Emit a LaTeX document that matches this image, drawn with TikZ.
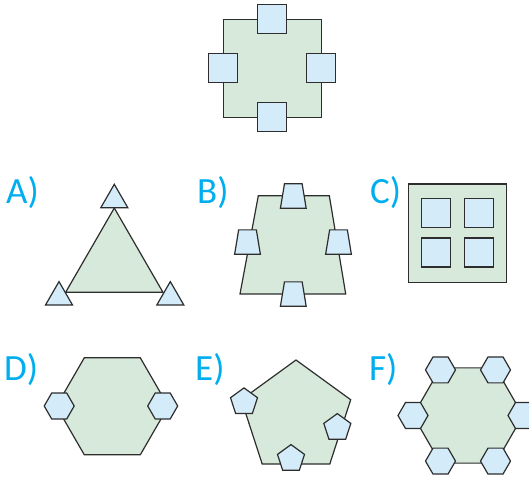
\documentclass[tikz,border=0pt]{standalone}
\usepackage{fontspec}
\setmainfont{Carlito}
\definecolor{bigfill}{RGB}{214,233,219}
\definecolor{smallfill}{RGB}{212,235,249}
\definecolor{edgecol}{RGB}{45,45,45}
\definecolor{labelcol}{RGB}{0,174,239}
\tikzset{
  bigshape/.style={draw=edgecol, fill=bigfill, line width=1.2pt, line join=miter},
  smallshape/.style={draw=edgecol, fill=smallfill, line width=1.2pt, line join=miter},
  optlabel/.style={anchor=base west, inner sep=0pt, text=labelcol, font=\fontsize{37}{40}\selectfont}
}
\newcommand\unitpent{(0,-1) -- (0.9511,-0.3090) -- (0.5878,0.8090) -- (-0.5878,0.8090) -- (-0.9511,-0.3090) -- cycle}
\newcommand\unithex{(1,0) -- (0.5,0.866) -- (-0.5,0.866) -- (-1,0) -- (-0.5,-0.866) -- (0.5,-0.866) -- cycle}
\newcommand\unittri{(0,-0.5774) -- (0.5,0.2887) -- (-0.5,0.2887) -- cycle}
\newcommand\unitsq{(-0.5,-0.5) rectangle (0.5,0.5)}
\newcommand\unittrap{(-0.364,-0.5) -- (0.364,-0.5) -- (0.529,0.5) -- (-0.529,0.5) -- cycle}
\begin{document}
\begin{tikzpicture}[x=1pt,y=-1pt]
\useasboundingbox (0,0) rectangle (529,478);
% ---- top figure
\draw[bigshape, shift={(272.3,68.3)}, scale=98] \unitsq;
\foreach \px/\py in {272.3/19.3, 223.3/68.3, 321.3/68.3, 272.3/117.3}
  \draw[smallshape, shift={(\px,\py)}, scale=29] \unitsq;
% ---- A
\node[optlabel] (labA) at (6,203.5) {A)};
\draw[bigshape, shift={(114.3,264.2)}, scale=97.3] \unittri;
\foreach \px/\py in {114.3/199.9, 59/297.2, 170.3/297.2}
  \draw[smallshape, shift={(\px,\py)}, scale=27] \unittri;
% ---- B
\node[optlabel] (labB) at (197,203.5) {B)};
\draw[bigshape] (258.3,195.7) -- (329.3,195.7) -- (345.7,294) -- (240,294) -- cycle;
\foreach \px/\py in {293.3/196, 247.5/242, 338.5/242, 293.3/294}
  \draw[smallshape, shift={(\px,\py)}, scale=24.3] \unittrap;
% ---- C
\node[optlabel] (labC) at (370,203.5) {C)};
\draw[bigshape] (408.3,184) rectangle (506.7,282.3);
\foreach \px/\py in {436.2/213, 479/213, 436.2/252.5, 479/252.5}
  \draw[smallshape, shift={(\px,\py)}, scale=29] \unitsq;
% ---- D
\node[optlabel] (labD) at (4,380) {D)};
\draw[bigshape, shift={(112.3,406.3)}, scale=56] \unithex;
\foreach \px/\py in {59.2/406, 162.7/406}
  \draw[smallshape, shift={(\px,\py)}, scale=15] \unithex;
% ---- E
\node[optlabel] (labE) at (195,380) {E)};
\draw[bigshape, shift={(296,417.5)}, scale=57.5] \unitpent;
\foreach \px/\py in {244/402.1, 337.3/427.8, 291/458.8}
  \draw[smallshape, shift={(\px,\py)}, scale=14.2] \unitpent;
% ---- F
\node[optlabel] (labF) at (369,380) {F)};
\draw[bigshape, shift={(468,415.5)}, scale=55] \unithex;
\foreach \px/\py in {440.5/369.9, 495.5/369.9, 413/415.5, 523/415.5, 440.5/461.1, 495.5/461.1}
  \draw[smallshape, shift={(\px,\py)}, scale=15] \unithex;
\end{tikzpicture}
\end{document}
